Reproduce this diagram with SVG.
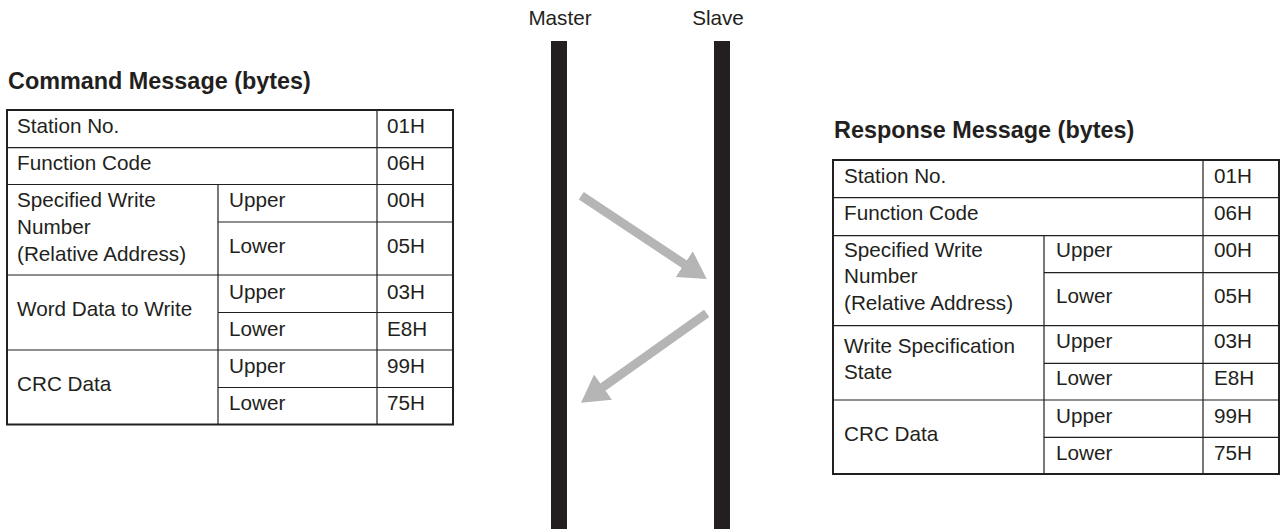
<svg xmlns="http://www.w3.org/2000/svg" width="1281" height="529" viewBox="0 0 1281 529">
  <style>
    text { font-family: "Liberation Sans", Arial, sans-serif; fill: #231f20; }
    .title { font-size: 23.4px; font-weight: bold; }
    .cell { font-size: 20.7px; }
    .frame { fill: none; stroke: #231f20; stroke-width: 2; }
    .grid { stroke: #231f20; stroke-width: 1.2; fill: none; }
    .bar { fill: #231f20; }
    .flow { stroke: #b5b5b5; stroke-width: 9; fill: none; }
  </style>
  <defs>
    <marker id="head" viewBox="0 -16 27 32" markerUnits="userSpaceOnUse" markerWidth="27" markerHeight="32" refX="2" refY="0" orient="auto">
      <path d="M0,-15.5 L27,0 L0,15.5 Z" fill="#b5b5b5"/>
    </marker>
  </defs>

  <!-- lifelines -->
  <g id="master">
    <text class="cell" x="560" y="25" text-anchor="middle">Master</text>
    <rect class="bar" x="551" y="41" width="16" height="488"/>
  </g>
  <g id="slave">
    <text class="cell" x="718" y="25" text-anchor="middle">Slave</text>
    <rect class="bar" x="714" y="41" width="16" height="488"/>
  </g>

  <!-- request / response flows -->
  <g id="connectors">
    <line class="flow" x1="581.3" y1="195.8" x2="685.9" y2="265.2" marker-end="url(#head)"/>
    <line class="flow" x1="706.7" y1="313.3" x2="601.4" y2="388.2" marker-end="url(#head)"/>
  </g>

  <!-- command frame -->
  <g id="command">
    <text class="title" x="8" y="89">Command Message (bytes)</text>
    <rect class="frame" x="7" y="110" width="446" height="314.5"/>
    <path class="grid" d="M7,147.7 H453 M7,184.5 H453 M218,222 H453 M7,275 H453 M218,312.5 H453 M7,350 H453 M218,387.5 H453 M218,184.5 V424.5 M377,110 V424.5"/>
    <text class="cell" x="17" y="132.7">Station No.</text>
    <text class="cell" x="387" y="132.7">01H</text>
    <text class="cell" x="17" y="170">Function Code</text>
    <text class="cell" x="387" y="170">06H</text>
    <text class="cell" x="17" y="207.3">Specified Write</text>
    <text class="cell" x="17" y="234.3">Number</text>
    <text class="cell" x="17" y="260.7">(Relative Address)</text>
    <text class="cell" x="229" y="207.3">Upper</text>
    <text class="cell" x="387" y="207.3">00H</text>
    <text class="cell" x="229" y="252.7">Lower</text>
    <text class="cell" x="387" y="252.7">05H</text>
    <text class="cell" x="17" y="316">Word Data to Write</text>
    <text class="cell" x="229" y="299">Upper</text>
    <text class="cell" x="387" y="299">03H</text>
    <text class="cell" x="229" y="335.7">Lower</text>
    <text class="cell" x="387" y="335.7">E8H</text>
    <text class="cell" x="17" y="391">CRC Data</text>
    <text class="cell" x="229" y="372.7">Upper</text>
    <text class="cell" x="387" y="372.7">99H</text>
    <text class="cell" x="229" y="410">Lower</text>
    <text class="cell" x="387" y="410">75H</text>
  </g>

  <!-- response frame -->
  <g id="response">
    <text class="title" x="834" y="138">Response Message (bytes)</text>
    <rect class="frame" x="833" y="160" width="446" height="314"/>
    <path class="grid" d="M833,197.7 H1279 M833,235.7 H1279 M1044,272.7 H1279 M833,325.7 H1279 M1044,363.3 H1279 M833,400 H1279 M1044,437.3 H1279 M1044,235.7 V474 M1203,160 V474"/>
    <text class="cell" x="844" y="182.7">Station No.</text>
    <text class="cell" x="1214" y="182.7">01H</text>
    <text class="cell" x="844" y="220">Function Code</text>
    <text class="cell" x="1214" y="220">06H</text>
    <text class="cell" x="844" y="256.7">Specified Write</text>
    <text class="cell" x="844" y="283.3">Number</text>
    <text class="cell" x="844" y="310">(Relative Address)</text>
    <text class="cell" x="1056" y="256.7">Upper</text>
    <text class="cell" x="1214" y="256.7">00H</text>
    <text class="cell" x="1056" y="302.7">Lower</text>
    <text class="cell" x="1214" y="302.7">05H</text>
    <text class="cell" x="844" y="352.7">Write Specification</text>
    <text class="cell" x="844" y="379.3">State</text>
    <text class="cell" x="1056" y="347.7">Upper</text>
    <text class="cell" x="1214" y="347.7">03H</text>
    <text class="cell" x="1056" y="385">Lower</text>
    <text class="cell" x="1214" y="385">E8H</text>
    <text class="cell" x="844" y="441">CRC Data</text>
    <text class="cell" x="1056" y="423.3">Upper</text>
    <text class="cell" x="1214" y="423.3">99H</text>
    <text class="cell" x="1056" y="460">Lower</text>
    <text class="cell" x="1214" y="460">75H</text>
  </g>
</svg>
